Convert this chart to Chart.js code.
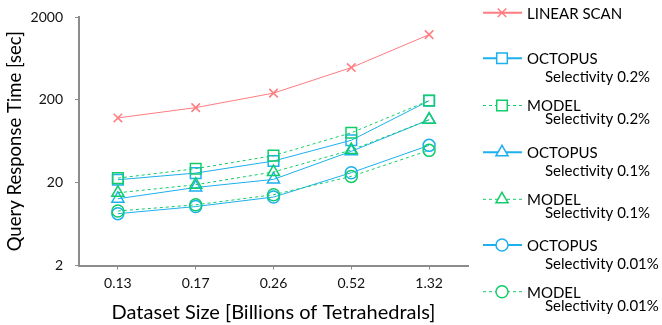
<!DOCTYPE html>
<html>
<head>
<meta charset="utf-8">
<script src="https://cdn.jsdelivr.net/npm/chart.js@4"></script>
<style>
  html, body { margin: 0; padding: 0; background: #fff; }
  #wrap { width: 662px; height: 325px; }
</style>
</head>
<body>
<div id="wrap"><canvas id="chart" width="662" height="325"></canvas></div>
<script>
const sizes = ['0.13', '0.17', '0.26', '0.52', '1.32'];
const yTicks = [2, 20, 200, 2000];

const linearScan = [121, 161, 241, 490, 1225];
const octopus02 = [21.7, 26.1, 36.5, 65, 195];
const model02 = [22.7, 29.5, 42.4, 80, 196];
const octopus01 = [12.8, 17.5, 21.9, 47.8, 115];
const model01 = [15.1, 18.9, 26.9, 49.5, 115];
const octopus001 = [8.45, 10.3, 13.4, 26.4, 56.4];
const model001 = [9.1, 10.8, 14.3, 23.8, 49.1];

const RED = '#ff7c80';
const BLUE = '#1cb0ee';
const GREEN = '#12cc6a';
const FONT = 'Lato, "Noto Sans", sans-serif';

function series(label, sub, data, color, style, radius, dashed, order) {
  return {
    label: label,
    sub: sub,
    data: data,
    borderColor: color,
    borderWidth: 1,
    borderDash: dashed ? [3, 3] : [],
    pointStyle: style,
    pointRadius: radius,
    pointHoverRadius: radius,
    pointBorderColor: color,
    pointBackgroundColor: 'rgba(255,255,255,0)',
    pointBorderWidth: 1.5,
    fill: false,
    tension: 0,
    order: order
  };
}

const datasets = [
  series('LINEAR SCAN', '', linearScan, RED, 'crossRot', 6, false, 2),
  series('OCTOPUS', 'Selectivity 0.2%', octopus02, BLUE, 'rect', 7.5, false, 1),
  series('MODEL', 'Selectivity 0.2%', model02, GREEN, 'rect', 7.5, true, 0),
  series('OCTOPUS', 'Selectivity 0.1%', octopus01, BLUE, 'triangle', 7, false, 1),
  series('MODEL', 'Selectivity 0.1%', model01, GREEN, 'triangle', 7, true, 0),
  series('OCTOPUS', 'Selectivity 0.01%', octopus001, BLUE, 'circle', 6, false, 1),
  series('MODEL', 'Selectivity 0.01%', model001, GREEN, 'circle', 6, true, 0)
];

// legend on the right, two-line labels
const legendRows = [12.7, 58.3, 105.5, 152.3, 199.3, 245, 291.7];
const sideLegend = {
  id: 'sideLegend',
  afterDraw(chart) {
    const ctx = chart.ctx;
    ctx.save();
    chart.data.datasets.forEach((ds, i) => {
      const y = legendRows[i];
      ctx.strokeStyle = ds.borderColor;
      ctx.lineWidth = ds.borderDash.length ? 1 : 2;
      ctx.setLineDash(ds.borderDash);
      ctx.beginPath();
      ctx.moveTo(483, y);
      ctx.lineTo(522, y);
      ctx.stroke();
      ctx.setLineDash([]);
      ctx.lineWidth = 1.5;
      ctx.fillStyle = '#fff';
      Chart.helpers.drawPoint(ctx, {
        pointStyle: ds.pointStyle,
        radius: ds.pointRadius,
        borderWidth: 1.5
      }, 502, y);
      ctx.fillStyle = '#000';
      ctx.textBaseline = 'middle';
      ctx.font = '15px ' + FONT;
      ctx.fillText(ds.label, 527, y + 1);
      if (ds.sub) {
        ctx.font = '15px ' + FONT;
        ctx.fillText(ds.sub, 545, y + (i % 2 ? 19 : 14));
      }
    });
    ctx.restore();
  }
};

new Chart(document.getElementById('chart'), {
  type: 'line',
  data: { labels: sizes, datasets: datasets },
  options: {
    responsive: false,
    animation: false,
    layout: { padding: { top: 17, right: 194, left: 0, bottom: 0 } },
    plugins: { legend: { display: false }, tooltip: { enabled: false } },
    scales: {
      x: {
        type: 'category',
        offset: true,
        afterFit: s => { s.height = 59.5; },
        grid: { display: true, drawOnChartArea: false, drawTicks: true, tickLength: 4, offset: false, color: '#8c8c8c' },
        border: { color: '#8c8c8c', width: 2 },
        ticks: { color: '#111', font: { family: FONT, size: 14 }, padding: 6, maxRotation: 0 },
        title: { display: true, text: 'Dataset Size [Billions of Tetrahedrals]', color: '#000', font: { family: FONT, size: 20 }, padding: { top: 0, bottom: 0 } }
      },
      y: {
        type: 'logarithmic',
        min: 2,
        max: 2000,
        afterFit: s => { s.width = 79; s.paddingTop = 8; s.paddingBottom = 8; },
        afterBuildTicks: s => { s.ticks = yTicks.map(v => ({ value: v })); },
        grid: { display: true, drawOnChartArea: false, drawTicks: true, tickLength: 4, color: '#8c8c8c' },
        border: { color: '#8c8c8c', width: 2 },
        ticks: { color: '#111', font: { family: FONT, size: 14 }, padding: 12, callback: v => String(v) },
        title: { display: true, text: 'Query Response Time [sec]', color: '#000', font: { family: FONT, size: 18.5 }, padding: { top: 4, bottom: 4 } }
      }
    }
  },
  plugins: [sideLegend]
});
</script>
</body>
</html>
